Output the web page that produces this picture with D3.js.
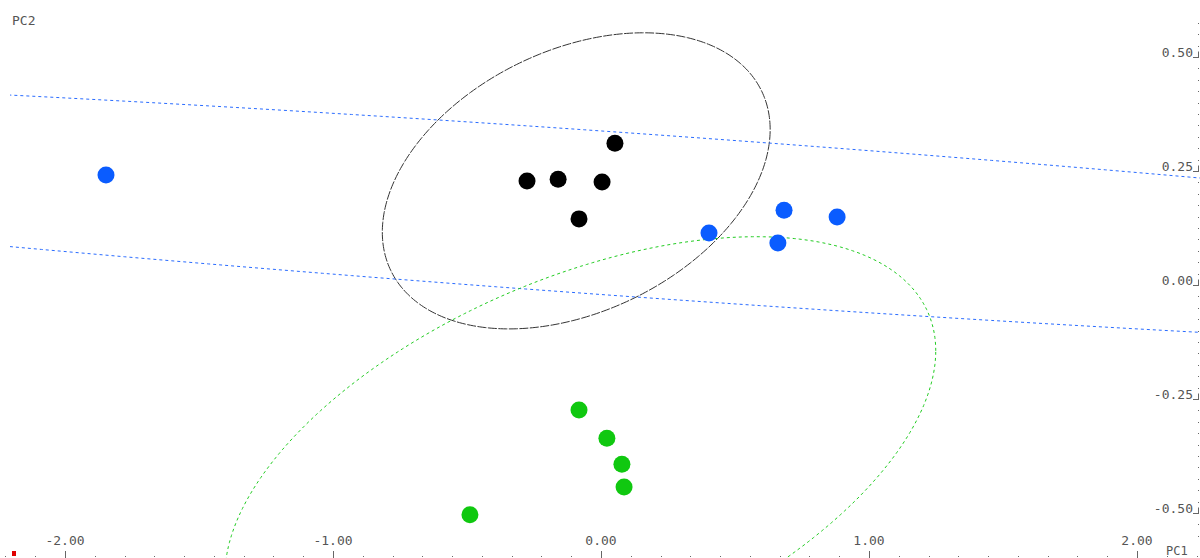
<!DOCTYPE html>
<html>
<head>
<meta charset="utf-8">
<script src="https://cdn.jsdelivr.net/npm/d3@7"></script>
<style>
  body { margin: 0; background: #fff; }
  text { font-family: "DejaVu Sans Mono", monospace; font-size: 13px; fill: #555; }
</style>
</head>
<body>
<svg id="chart" width="1200" height="558"></svg>
<script>
// scores per group
const pc1Black = [0.052, -0.276, -0.160, 0.004, -0.082];
const pc2Black = [0.311, 0.228, 0.232, 0.226, 0.145];
const pc1Blue = [-1.847, 0.403, 0.683, 0.881, 0.660];
const pc2Blue = [0.241, 0.114, 0.164, 0.149, 0.092];
const pc1Green = [-0.082, 0.022, 0.078, 0.086, -0.489];
const pc2Green = [-0.274, -0.336, -0.393, -0.443, -0.504];

const xTicks = [-2, -1, 0, 1, 2];
const yTicks = [-0.5, -0.25, 0, 0.25, 0.5];
const xTickLabels = ["-2.00", "-1.00", "0.00", "1.00", "2.00"];
const yTickLabels = ["-0.50", "-0.25", "0.00", "0.25", "0.50"];

const groups = [
  { x: pc1Black, y: pc2Black, fill: "#000000", stroke: "#333333", dash: "9,1.5" },
  { x: pc1Blue, y: pc2Blue, fill: "#0a5cff", stroke: "#2a6cff", dash: "3,3" },
  { x: pc1Green, y: pc2Green, fill: "#10c810", stroke: "#22cc22", dash: "3,3" }
];

const x = d3.scaleLinear().domain([-2, 2]).range([65, 1137]);
const y = d3.scaleLinear().domain([-0.5, 0.5]).range([513, 57]);

const svg = d3.select("#chart");

svg.append("defs").append("clipPath").attr("id", "plotClip")
  .append("rect").attr("x", 10).attr("y", 0).attr("width", 1190).attr("height", 558);

// 95% prediction ellipse from the group covariance
function ellipsePoints(xs, ys) {
  const n = xs.length;
  const mx = d3.mean(xs), my = d3.mean(ys);
  let sxx = 0, syy = 0, sxy = 0;
  for (let i = 0; i < n; i++) {
    sxx += (xs[i] - mx) ** 2;
    syy += (ys[i] - my) ** 2;
    sxy += (xs[i] - mx) * (ys[i] - my);
  }
  const k = 30.56 / (n - 1);
  sxx *= k; syy *= k; sxy *= k;
  const l11 = Math.sqrt(sxx), l21 = sxy / l11, l22 = Math.sqrt(syy - l21 * l21);
  return d3.range(0, 361, 1).map(a => {
    const t = a * Math.PI / 180;
    return [mx + l11 * Math.cos(t), my + l21 * Math.cos(t) + l22 * Math.sin(t)];
  });
}

const line = d3.line().x(d => x(d[0])).y(d => y(d[1]));

const ellipses = svg.append("g").attr("clip-path", "url(#plotClip)");
groups.forEach(g => {
  ellipses.append("path")
    .attr("d", line(ellipsePoints(g.x, g.y)))
    .attr("fill", "none")
    .attr("stroke", g.stroke)
    .attr("stroke-width", 1)
    .attr("stroke-dasharray", g.dash);
});

const points = svg.append("g");
groups.forEach(g => {
  points.selectAll(null)
    .data(d3.zip(g.x, g.y))
    .enter()
    .append("circle")
    .attr("cx", d => x(d[0]))
    .attr("cy", d => y(d[1]))
    .attr("r", 8.5)
    .style("fill", g.fill);
});

// x axis (bottom)
const xMinor = d3.range(-2 - 2 / 9, 2.3, 1 / 9);
svg.append("g").selectAll("rect")
  .data(xMinor)
  .enter()
  .append("rect")
  .attr("x", d => Math.round(x(d)))
  .attr("y", 556)
  .attr("width", 1)
  .attr("height", 1)
  .style("fill", "#666");

svg.append("g").selectAll("line")
  .data(xTicks)
  .enter()
  .append("line")
  .attr("x1", d => Math.round(x(d)) + 0.5)
  .attr("x2", d => Math.round(x(d)) + 0.5)
  .attr("y1", 551)
  .attr("y2", 558)
  .style("stroke", "#666");

svg.append("g").selectAll("text")
  .data(xTicks)
  .enter()
  .append("text")
  .attr("x", d => x(d))
  .attr("y", 545)
  .attr("text-anchor", "middle")
  .text((d, i) => xTickLabels[i]);

// y axis (right)
const yMinor = d3.range(-0.55, 0.6, 0.025);
svg.append("g").selectAll("rect")
  .data(yMinor)
  .enter()
  .append("rect")
  .attr("x", 1198)
  .attr("y", d => Math.round(y(d)))
  .attr("width", 1)
  .attr("height", 1)
  .style("fill", "#666");

const yMajor = svg.append("g").selectAll("g")
  .data(yTicks)
  .enter()
  .append("g");

yMajor.append("path")
  .attr("d", d => {
    const yy = Math.round(y(d)) + 0.5;
    return `M1193,${yy}H1198.5V${yy - 6}`;
  })
  .attr("fill", "none")
  .style("stroke", "#666");

yMajor.append("text")
  .attr("x", 1193)
  .attr("y", d => y(d))
  .attr("text-anchor", "end")
  .text((d, i) => yTickLabels[i]);

svg.append("text").attr("x", 12).attr("y", 25).text("PC2");
svg.append("text").attr("x", 1166).attr("y", 555).style("font-size", "12px").text("PC1");

svg.append("rect").attr("x", 12).attr("y", 551).attr("width", 4).attr("height", 5).style("fill", "#e00000");
</script>
</body>
</html>
